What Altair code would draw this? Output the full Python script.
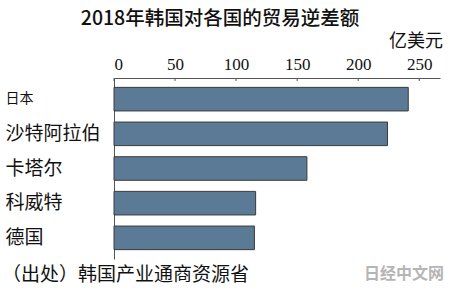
import altair as alt
import pandas as pd

countries = ["日本", "沙特阿拉伯", "卡塔尔", "科威特", "德国"]
values = [241, 224, 158, 116, 115]
ticks = [0, 50, 100, 150, 200, 250]

title_text = "2018年韩国对各国的贸易逆差额"
unit_text = "亿美元"
source_text = "（出处）韩国产业通商资源省"
mark_text = "日经中文网"

df = pd.DataFrame({"country": countries, "value": values})
tick_df = pd.DataFrame({"t": ticks})

W, H = 326, 181
xscale = alt.Scale(domain=[0, 267], nice=False, zero=True)
yscale = alt.Scale(domain=countries, paddingInner=0.32, paddingOuter=0.27)

font = "Noto Sans CJK SC"

bars = alt.Chart(df).mark_bar(
    color="#5B7A96", stroke="#3a3a3a", strokeWidth=1
).encode(
    x=alt.X("value:Q", scale=xscale,
            axis=alt.Axis(orient="top", values=ticks, title=None, ticks=False,
                          grid=False, domainColor="#555", domainWidth=1,
                          labelFont="Liberation Sans Narrow", labelFontSize=17,
                          labelColor="#111", labelPadding=5)),
    y=alt.Y("country:N", scale=yscale, sort=countries,
            axis=alt.Axis(title=None, ticks=False, domainColor="#555",
                          labelAlign="left", labelPadding=109,
                          labelFont=font, labelColor="#111",
                          labelFontSize=alt.ExprRef(
                              "datum.value == '日本' ? 14 : 19"),
                          labelLimit=200)),
)

tick_marks = alt.Chart(tick_df).mark_rule(color="#555", strokeWidth=1).encode(
    x=alt.X("t:Q", scale=xscale),
    y=alt.value(0),
    y2=alt.value(3),
)

def label(text, x, y, size, align="left", color="#111", weight="normal"):
    return alt.Chart(pd.DataFrame({"t": [text]})).mark_text(
        font=font, fontSize=size, align=align, baseline="middle",
        color=color, fontWeight=weight
    ).encode(text="t:N", x=alt.value(x), y=alt.value(y))

title = label(title_text, 106, -59, 19.5, align="center", weight=500)
unit = label(unit_text, 329, -36, 18, align="right")
source = label(source_text, -112, 197, 19)
wm = label(mark_text, 290, 196, 16, align="center", color="#b5b5b5", weight="bold")

chart = alt.layer(bars, tick_marks, title, unit, source, wm).properties(
    width=W, height=H,
    padding={"left": 114, "top": 78, "right": 10, "bottom": 31},
    autosize=alt.AutoSizeParams(type="none"),
    background="white",
).configure_view(stroke=None)

chart.save("out.html", embed_options={"renderer": "svg", "actions": False})
